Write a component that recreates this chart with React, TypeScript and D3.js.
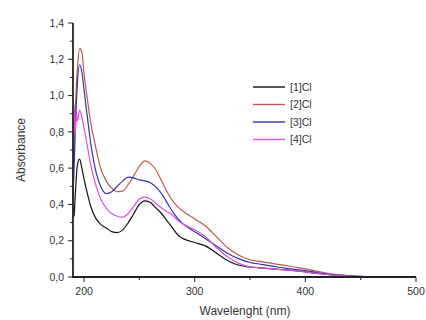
import React from 'react';
import * as d3 from 'd3';

const wavelengths = [190, 191, 192, 193, 194, 196, 198, 200, 203, 206, 210, 215, 220, 225, 230, 235, 240, 245, 250, 255, 260, 265, 270, 275, 280, 285, 290, 300, 310, 320, 330, 340, 350, 360, 370, 380, 390, 400, 410, 420, 430, 440, 450, 460, 470];

const cl1 = [0.33, 0.34, 0.45, 0.55, 0.62, 0.65, 0.6, 0.54, 0.46, 0.39, 0.33, 0.29, 0.27, 0.25, 0.245, 0.26, 0.3, 0.35, 0.4, 0.42, 0.41, 0.38, 0.35, 0.31, 0.27, 0.23, 0.21, 0.19, 0.17, 0.13, 0.09, 0.065, 0.055, 0.05, 0.045, 0.04, 0.035, 0.028, 0.02, 0.014, 0.008, 0.005, 0.002, 0, 0];
const cl2 = [0.55, 0.7, 0.9, 1.05, 1.15, 1.26, 1.24, 1.12, 0.98, 0.85, 0.73, 0.6, 0.53, 0.49, 0.47, 0.475, 0.51, 0.56, 0.61, 0.64, 0.625, 0.59, 0.53, 0.47, 0.42, 0.385, 0.36, 0.32, 0.28, 0.22, 0.16, 0.12, 0.095, 0.085, 0.075, 0.065, 0.055, 0.045, 0.032, 0.02, 0.012, 0.007, 0.003, 0.001, 0];
const cl3 = [0.45, 0.6, 0.8, 0.95, 1.07, 1.17, 1.13, 1.03, 0.88, 0.74, 0.6, 0.5, 0.46, 0.47, 0.5, 0.53, 0.55, 0.545, 0.535, 0.53, 0.52, 0.495, 0.46, 0.41, 0.36, 0.32, 0.29, 0.25, 0.21, 0.17, 0.13, 0.1, 0.08, 0.07, 0.06, 0.05, 0.042, 0.035, 0.025, 0.016, 0.01, 0.006, 0.003, 0, 0];
const cl4 = [0.36, 0.95, 0.78, 0.9, 0.86, 0.92, 0.88, 0.82, 0.72, 0.62, 0.52, 0.43, 0.38, 0.35, 0.335, 0.33, 0.35, 0.39, 0.43, 0.44, 0.43, 0.405, 0.38, 0.36, 0.34, 0.31, 0.29, 0.26, 0.22, 0.16, 0.11, 0.075, 0.055, 0.05, 0.045, 0.04, 0.035, 0.028, 0.02, 0.014, 0.008, 0.005, 0.002, 0, 0];

const seriesNames = ['[1]Cl', '[2]Cl', '[3]Cl', '[4]Cl'];
const seriesValues = [cl1, cl2, cl3, cl4];
const colors = ['#111111', '#b85a50', '#3535a5', '#dd4fdd'];

const xTicks = [200, 300, 400, 500];
const xMinor = [250, 350, 450];
const yTicks = [0, 0.2, 0.4, 0.6, 0.8, 1.0, 1.2, 1.4];
const yMinor = [0.1, 0.3, 0.5, 0.7, 0.9, 1.1, 1.3];

export default function App() {
  const width = 426;
  const height = 320;
  const x = d3.scaleLinear().domain([190, 500]).range([73, 416]);
  const y = d3.scaleLinear().domain([0, 1.4]).range([277, 23]);
  const font = 'Liberation Sans, Arial, sans-serif';

  const line = d3.line<number>()
    .x((d, i) => x(wavelengths[i]))
    .y(d => y(d))
    .curve(d3.curveMonotoneX);

  return (
    <svg width={width} height={height} style={{ position: 'absolute', left: 0, top: 0, background: '#fff' }}>
      {seriesValues.map((vals, i) => (
        <path key={i} d={line(vals) || ''} fill="none" stroke={colors[i]} strokeWidth={1.2} />
      ))}

      {/* axes */}
      <line x1={73} x2={73} y1={y(1.4)} y2={y(0) + 1} stroke="#222" strokeWidth={1.8} />
      <line x1={72} x2={x(500)} y1={y(0)} y2={y(0)} stroke="#222" strokeWidth={1.8} />

      {yTicks.map(t => (
        <g key={t}>
          <line x1={68} x2={73} y1={y(t)} y2={y(t)} stroke="#222" strokeWidth={1} />
          <text x={64} y={y(t)} dy="0.35em" textAnchor="end" fontFamily={font} fontSize={10.5} fill="#333">
            {t.toFixed(1).replace('.', ',')}
          </text>
        </g>
      ))}
      {yMinor.map(t => (
        <line key={t} x1={70} x2={73} y1={y(t)} y2={y(t)} stroke="#222" strokeWidth={1} />
      ))}

      {xTicks.map(t => (
        <g key={t}>
          <line x1={x(t)} x2={x(t)} y1={277} y2={282} stroke="#222" strokeWidth={1} />
          <text x={x(t)} y={295} textAnchor="middle" fontFamily={font} fontSize={10.5} fill="#333">
            {t}
          </text>
        </g>
      ))}
      {xMinor.map(t => (
        <line key={t} x1={x(t)} x2={x(t)} y1={277} y2={280} stroke="#222" strokeWidth={1} />
      ))}

      <text transform="translate(25,150) rotate(-90)" textAnchor="middle" fontFamily={font} fontSize={12} fill="#333">
        Absorbance
      </text>
      <text x={245} y={315} textAnchor="middle" fontFamily={font} fontSize={12} fill="#333">
        Wavelenght (nm)
      </text>

      {seriesNames.map((name, i) => {
        const ly = 87 + i * 17.5;
        return (
          <g key={name}>
            <line x1={253} x2={285} y1={ly} y2={ly} stroke={colors[i]} strokeWidth={1.4} />
            <text x={290} y={ly} dy="0.35em" fontFamily={font} fontSize={10.5} fill="#333">
              {name}
            </text>
          </g>
        );
      })}
    </svg>
  );
}
